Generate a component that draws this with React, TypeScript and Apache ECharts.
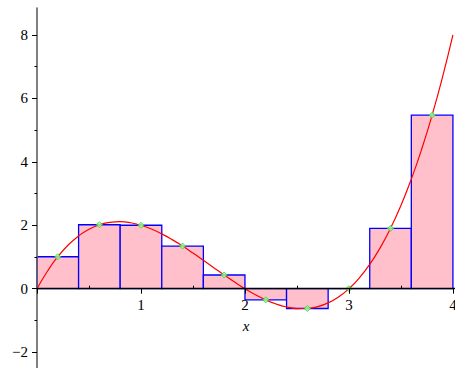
import React, { useEffect, useRef } from "react";
import * as echarts from "echarts";

// Riemann (midpoint) sum of the plotted curve on [0, 4]
const edges = [0, 0.4, 0.8, 1.2, 1.6, 2.0, 2.4, 2.8, 3.2, 3.6, 4.0];
const midpoints = [0.2, 0.6, 1.0, 1.4, 1.8, 2.2, 2.6, 3.0, 3.4, 3.8];
const heights = [1.008, 2.016, 2.0, 1.344, 0.432, -0.352, -0.624, 0.0, 1.904, 5.472];

// curve samples
const curveX = [
  0, 0.1, 0.2, 0.3, 0.4, 0.5, 0.6, 0.7, 0.8, 0.9, 1.0, 1.1, 1.2, 1.3, 1.4, 1.5, 1.6, 1.7, 1.8, 1.9,
  2.0, 2.1, 2.2, 2.3, 2.4, 2.5, 2.6, 2.7, 2.8, 2.9, 3.0, 3.1, 3.2, 3.3, 3.4, 3.5, 3.6, 3.7, 3.8, 3.9, 4.0,
];
const curveY = [
  0, 0.551, 1.008, 1.377, 1.664, 1.875, 2.016, 2.093, 2.112, 2.079, 2.0, 1.881, 1.728, 1.547, 1.344,
  1.125, 0.896, 0.663, 0.432, 0.209, 0, -0.189, -0.352, -0.483, -0.576, -0.625, -0.624, -0.567, -0.448,
  -0.261, 0, 0.341, 0.768, 1.287, 1.904, 2.625, 3.456, 4.403, 5.472, 6.669, 8.0,
];

const xLabels = [1, 2, 3, 4];
const xMajorTicks = [0, 1, 2, 3, 4];
const xMinorTicks = [0.5, 1.5, 2.5, 3.5];
const yLabels = [-2, 0, 2, 4, 6, 8];
const yMinorTicks = [-1, 1, 3, 5, 7];

const X_MIN = 0;
const X_MAX = 4.02;
const Y_MIN = -2.5;
const Y_MAX = 8.85;

const FONT = "'Liberation Serif', 'Times New Roman', serif";

const W = 455;
const H = 368;
const GRID_LEFT = 37;
const GRID_TOP = 8;
const PLOT_H = H - GRID_TOP;
// pixel height from grid top to the y = 0 line
const ZERO_FROM_TOP = (Y_MAX / (Y_MAX - Y_MIN)) * PLOT_H;

export default function App() {
  const ref = useRef<HTMLDivElement>(null);

  useEffect(() => {
    if (!ref.current) return;
    const chart = echarts.init(ref.current, undefined, { renderer: "svg" });

    const bars = heights.map((h, i) => [edges[i], edges[i + 1], h]);

    const hiddenAxis = {
      axisLine: { show: false },
      axisTick: { show: false },
      axisLabel: { show: false },
      splitLine: { show: false },
    };

    chart.setOption({
      animation: false,
      textStyle: { fontFamily: FONT },
      grid: [
        { left: GRID_LEFT, right: 0, top: GRID_TOP, bottom: 0, containLabel: false, outerBoundsMode: "none" },
        {
          left: GRID_LEFT,
          right: 0,
          top: GRID_TOP,
          height: ZERO_FROM_TOP,
          containLabel: false,
          outerBoundsMode: "none",
        },
      ],
      xAxis: [
        {
          gridIndex: 0,
          type: "value",
          min: X_MIN,
          max: X_MAX,
          z: 5,
          axisLine: { show: true, onZero: true, lineStyle: { color: "#000", width: 1.3 } },
          axisTick: { show: true, customValues: xMajorTicks, length: 5, lineStyle: { color: "#000" } },
          axisLabel: { show: false },
          splitLine: { show: false },
        },
        {
          gridIndex: 0,
          type: "value",
          min: X_MIN,
          max: X_MAX,
          z: 5,
          axisLine: { show: false, onZero: true },
          axisTick: { show: true, customValues: xMinorTicks, length: 3, lineStyle: { color: "#000" } },
          axisLabel: { show: false },
          splitLine: { show: false },
        },
        {
          gridIndex: 1,
          type: "value",
          position: "bottom",
          min: X_MIN,
          max: X_MAX,
          z: 5,
          axisLine: { show: false, onZero: false },
          axisTick: { show: false },
          axisLabel: {
            customValues: xLabels,
            margin: 9,
            color: "#000",
            fontFamily: FONT,
            fontSize: 15,
            hideOverlap: false,
          },
          splitLine: { show: false },
          name: "x",
          nameLocation: "middle",
          nameGap: 30,
          nameTextStyle: { fontFamily: FONT, fontStyle: "italic", fontSize: 15, color: "#000" },
        },
      ],
      yAxis: [
        {
          gridIndex: 0,
          type: "value",
          position: "left",
          min: Y_MIN,
          max: Y_MAX,
          z: 5,
          axisLine: { show: true, onZero: false, lineStyle: { color: "#606060", width: 1.6 } },
          axisTick: { show: true, customValues: yLabels, length: 5, lineStyle: { color: "#000" } },
          axisLabel: {
            customValues: yLabels,
            margin: 9,
            color: "#000",
            fontFamily: FONT,
            fontSize: 15,
            formatter: (v: number) => (v < 0 ? "\u2212" + Math.abs(v) : String(v)),
          },
          splitLine: { show: false },
        },
        {
          gridIndex: 0,
          type: "value",
          position: "left",
          offset: 0,
          min: Y_MIN,
          max: Y_MAX,
          z: 5,
          axisLine: { show: false, onZero: false },
          axisTick: { show: true, customValues: yMinorTicks, length: 2.5, lineStyle: { color: "#000" } },
          axisLabel: { show: false },
          splitLine: { show: false },
        },
        { gridIndex: 1, type: "value", min: 0, max: Y_MAX, ...hiddenAxis },
      ],
      series: [
        {
          type: "custom",
          z: 1,
          xAxisIndex: 0,
          yAxisIndex: 0,
          data: bars,
          renderItem: (params: any, api: any) => {
            const x0 = api.value(0);
            const x1 = api.value(1);
            const h = api.value(2);
            const p0 = api.coord([x0, 0]);
            const p1 = api.coord([x1, h]);
            return {
              type: "rect",
              shape: {
                x: p0[0],
                y: Math.min(p0[1], p1[1]),
                width: p1[0] - p0[0],
                height: Math.abs(p1[1] - p0[1]),
              },
              style: { fill: "#FFC0CB", stroke: "#0000FF", lineWidth: 1.3 },
            };
          },
        },
        {
          type: "line",
          z: 3,
          xAxisIndex: 0,
          yAxisIndex: 0,
          data: curveX.map((x, i) => [x, curveY[i]]),
          smooth: true,
          showSymbol: false,
          symbol: "none",
          lineStyle: { color: "#FF0000", width: 1.2 },
        },
        {
          type: "scatter",
          z: 4,
          xAxisIndex: 0,
          yAxisIndex: 0,
          data: midpoints.map((x, i) => [x, heights[i]]),
          symbol: "diamond",
          symbolSize: 6,
          itemStyle: { color: "#9CFF9C", borderColor: "#22DD22", borderWidth: 1 },
        },
      ],
    });

    return () => chart.dispose();
  }, []);

  return (
    <div
      ref={ref}
      style={{ position: "fixed", left: 0, top: 0, width: W, height: H, background: "#fff" }}
    />
  );
}
